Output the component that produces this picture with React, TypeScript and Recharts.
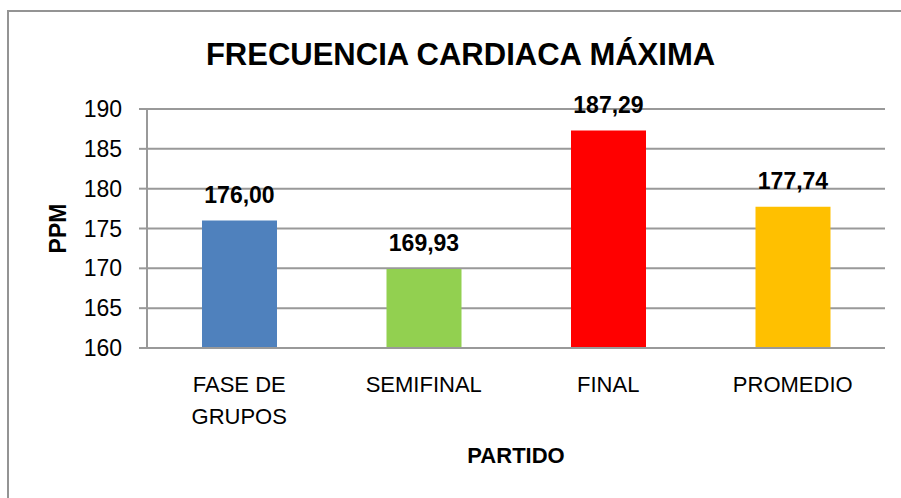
import { BarChart, Bar, XAxis, YAxis, CartesianGrid, Cell, LabelList } from 'recharts';

const categories = ['FASE DE\nGRUPOS', 'SEMIFINAL', 'FINAL', 'PROMEDIO'];
const values = [176.0, 169.93, 187.29, 177.74];
const barColors = ['#4F81BD', '#92D050', '#FF0000', '#FFC000'];
const yTicks = [160, 165, 170, 175, 180, 185, 190];

const data = categories.map((name, i) => ({ name, value: values[i] }));

const font = '"Liberation Sans", Arial, sans-serif';
const gridColor = '#999999';

function CategoryTick(props: any) {
  const { x, y, payload } = props;
  const lines = String(payload.value).split('\n');
  return (
    <text x={x} y={y} textAnchor="middle" fill="#000" fontSize={22} fontFamily={font}>
      {lines.map((line, i) => (
        <tspan key={i} x={x} dy={i === 0 ? 43.5 : 32}>
          {line}
        </tspan>
      ))}
    </text>
  );
}

export default function App() {
  return (
    <div
      style={{
        position: 'absolute',
        left: 0,
        top: 0,
        width: 901,
        height: 498,
        overflow: 'hidden',
        background: '#fff',
        fontFamily: font,
      }}
    >
      <div
        style={{
          position: 'absolute',
          left: 7,
          top: 10,
          width: 1000,
          height: 600,
          borderLeft: '2px solid #949494',
          borderTop: '2px solid #949494',
        }}
      />
      <svg style={{ position: 'absolute', left: 0, top: 0 }} width={901} height={100}>
        <text x={460.5} y={65} textAnchor="middle" fontSize={31} fontWeight="bold" fontFamily={font} fill="#000">
          FRECUENCIA CARDIACA MÁXIMA
        </text>
      </svg>
      <div style={{ position: 'absolute', left: 0, top: 0 }}>
        <BarChart
          width={901}
          height={498}
          data={data}
          margin={{ top: 109, right: 16, bottom: 30, left: 0 }}
        >
          <CartesianGrid vertical={false} stroke={gridColor} strokeWidth={2} />
          <XAxis
            dataKey="name"
            height={120}
            tickLine={false}
            tickSize={0}
            tickMargin={0}
            axisLine={{ stroke: gridColor, strokeWidth: 2 }}
            tick={<CategoryTick />}
            interval={0}
            label={{
              value: 'PARTIDO',
              position: 'insideBottom',
              offset: 5,
              fill: '#000',
              fontSize: 22,
              fontWeight: 'bold',
              fontFamily: font,
            }}
          />
          <YAxis
            width={147}
            domain={[160, 190]}
            ticks={yTicks}
            allowDataOverflow
            tickSize={8}
            tickMargin={17}
            tickLine={{ stroke: gridColor, strokeWidth: 2 }}
            axisLine={{ stroke: gridColor, strokeWidth: 2 }}
            tick={{ fill: '#000', fontSize: 23, fontFamily: font }}
            label={{
              value: 'PPM',
              angle: -90,
              position: 'insideLeft',
              offset: 58,
              fill: '#000',
              fontSize: 23,
              fontWeight: 'bold',
              fontFamily: font,
              style: { textAnchor: 'middle' },
            }}
          />
          <Bar dataKey="value" barSize={75} isAnimationActive={false}>
            {data.map((d, i) => (
              <Cell key={d.name} fill={barColors[i]} />
            ))}
            <LabelList
              dataKey="value"
              position="top"
              offset={18}
              fill="#000"
              fontSize={23}
              fontWeight="bold"
              fontFamily={font}
              formatter={(v: any) => Number(v).toFixed(2).replace('.', ',')}
            />
          </Bar>
        </BarChart>
      </div>
    </div>
  );
}
